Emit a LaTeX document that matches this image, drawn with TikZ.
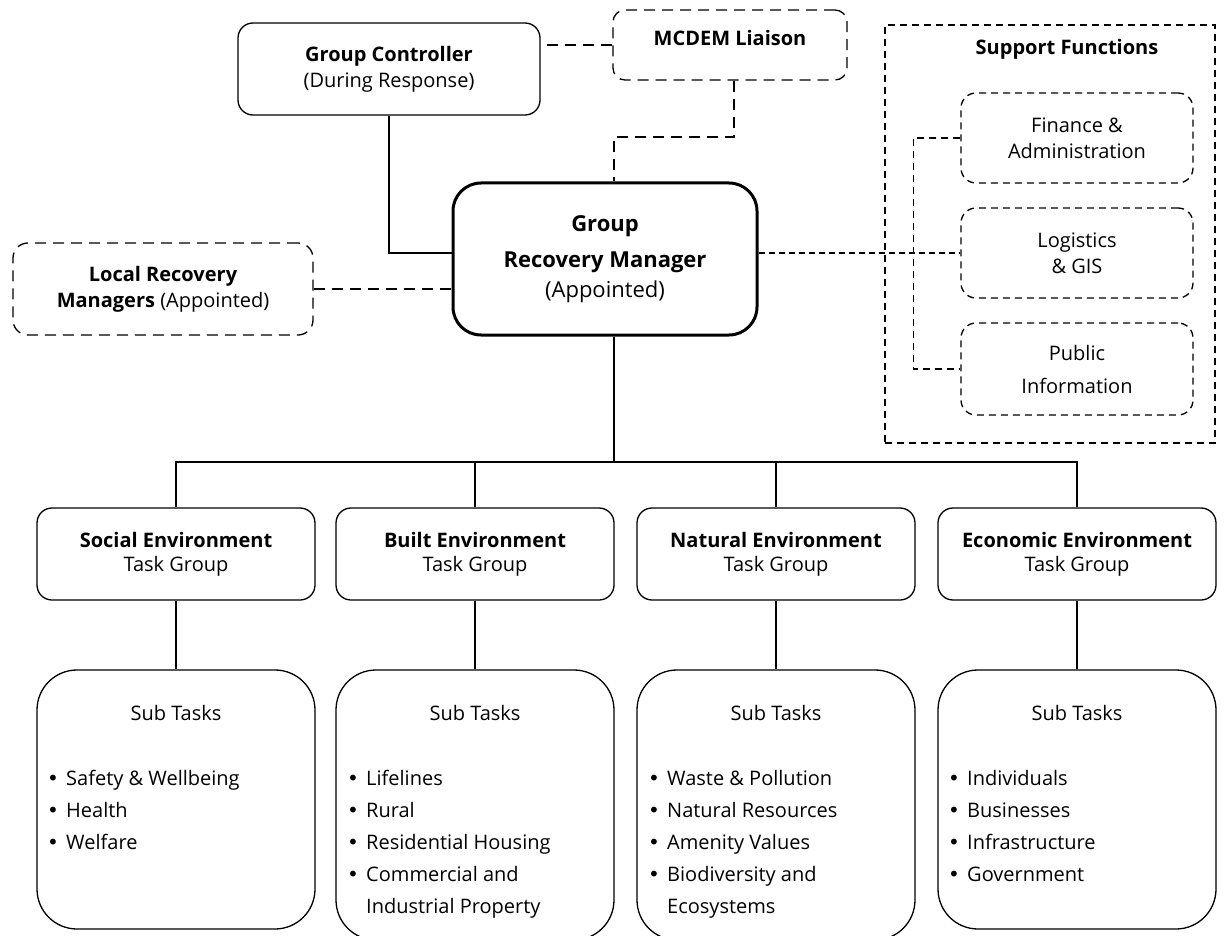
\documentclass[tikz,border=0pt]{standalone}
\usepackage{fontspec}
\setmainfont{Open Sans}
\newfontfamily\bulfont{DejaVu Sans}
\newcommand{\bul}{\makebox[20pt][l]{\hspace{1pt}{\bulfont •}}}
\newcommand{\bulgap}{\hspace*{20pt}}
\begin{document}
\begin{tikzpicture}[x=1pt,y=-1pt,
  txt/.style={font=\fontsize{20}{26}\selectfont, align=center, inner sep=0pt},
  box/.style={draw, line width=1.3pt, rounded corners=15pt, align=center, inner sep=0pt,
     font=\fontsize{20}{26}\selectfont},
  dbox/.style={box, dash pattern=on 11pt off 7pt},
  sbox/.style={box, dash pattern=on 7pt off 5pt},
  taskbox/.style={box, minimum width=278pt, minimum height=92pt, font=\fontsize{20}{24}\selectfont},
  subbox/.style={draw, line width=1.3pt, rounded corners=40pt, minimum width=278pt, inner sep=0pt},
  list/.style={font=\fontsize{20}{32}\selectfont, align=left, inner sep=0pt, anchor=north west},
  solidline/.style={line width=1.3pt},
  bigdash/.style={line width=1.3pt, dash pattern=on 11pt off 7pt},
  smalldash/.style={line width=1.3pt, dash pattern=on 7pt off 5pt},
  finedash/.style={line width=1.3pt, dash pattern=on 6pt off 4pt}
]
\useasboundingbox (0,0) rectangle (1226,936);

% top row
\node[box, minimum width=302pt, minimum height=92pt] (gc) at (389,69)
  {\textbf{Group Controller}\\(During Response)};
\node[dbox, minimum width=234pt, minimum height=70pt, rounded corners=12pt] (mcdem) at (730,45) {};
\node[txt, font=\fontsize{20}{26}\selectfont\bfseries] (mcdemtxt) at (730,38) {MCDEM Liaison};
\node[dbox, minimum width=300pt, minimum height=92pt] (lrm) at (163,289)
  {\textbf{Local Recovery}\\\textbf{Managers} (Appointed)};
\node[box, line width=3pt, rounded corners=28pt, minimum width=304pt, minimum height=152pt,
  font=\fontsize{22}{30}\selectfont] (grm) at (605,259)
  {\textbf{Group}\\[6pt]\textbf{Recovery Manager}\\(Appointed)};

% support functions
\node[draw, line width=1.3pt, dash pattern=on 7pt off 5pt, minimum width=330pt, minimum height=418pt,
  inner sep=0pt] (sf) at (1050,234) {};
\node[txt, font=\fontsize{20}{26}\selectfont\bfseries] (sftitle) at (1067,49) {Support Functions};
\node[sbox, minimum width=232pt, minimum height=90pt] (fin) at (1077,138) {Finance \&\\Administration};
\node[sbox, minimum width=232pt, minimum height=90pt] (logi) at (1077,253) {Logistics\\\& GIS};
\node[sbox, minimum width=232pt, minimum height=92pt] (pub) at (1077,369) {Public\\[7pt]Information};

% task groups
\node[taskbox] (soc) at (176,554) {\textbf{Social Environment}\\Task Group};
\node[taskbox] (blt) at (475,554) {\textbf{Built Environment}\\Task Group};
\node[taskbox] (nat) at (776,554) {\textbf{Natural Environment}\\Task Group};
\node[taskbox] (eco) at (1077,554) {\textbf{Economic Environment}\\Task Group};

% sub tasks
\node[subbox, minimum height=259pt] (socsub) at (176,799.5) {};
\node[subbox, minimum height=270pt] (bltsub) at (475,805) {};
\node[subbox, minimum height=270pt] (natsub) at (776,805) {};
\node[subbox, minimum height=259pt] (ecosub) at (1077,799.5) {};

\node[txt] (socst) at (176,713) {Sub Tasks};
\node[txt] (bltst) at (475,713) {Sub Tasks};
\node[txt] (natst) at (776,713) {Sub Tasks};
\node[txt] (ecost) at (1077,713) {Sub Tasks};

\node[list] (socl) at (46,770) {\bul Safety \& Wellbeing\\\bul Health\\\bul Welfare};
\node[list] (bltl) at (346,770) {\bul Lifelines\\\bul Rural\\\bul Residential Housing\\\bul Commercial and\\\bulgap Industrial Property};
\node[list] (natl) at (647,770) {\bul Waste \& Pollution\\\bul Natural Resources\\\bul Amenity Values\\\bul Biodiversity and\\\bulgap Ecosystems};
\node[list] (ecol) at (947,770) {\bul Individuals\\\bul Businesses\\\bul Infrastructure\\\bul Government};

% coordinates
\coordinate (m1) at (614,137);
\coordinate (bus) at (614,462);

% connectors
\draw[bigdash] (mcdem.west) -- (mcdem.west -| gc.east);
\draw[bigdash] (mcdem.south -| 734,0) |- (m1) -- (m1 |- grm.north);
\draw[solidline] (gc.south) |- ([yshift=6pt]grm.west);
\draw[bigdash] (lrm.east) -- (lrm.east -| grm.west);
\draw[finedash] (logi.west -| grm.east) -- (logi.west);
\draw[smalldash] (fin.west) -- ++(-47,0) |- (pub.west);

\draw[solidline] (grm.south -| bus) -- (bus);
\draw[solidline] (soc.north) -- (soc.north |- bus) -- (eco.north |- bus) -- (eco.north);
\draw[solidline] (blt.north) -- (blt.north |- bus);
\draw[solidline] (nat.north) -- (nat.north |- bus);

\draw[solidline] (soc.south) -- (socsub.north);
\draw[solidline] (blt.south) -- (bltsub.north);
\draw[solidline] (nat.south) -- (natsub.north);
\draw[solidline] (eco.south) -- (ecosub.north);
\end{tikzpicture}
\end{document}
